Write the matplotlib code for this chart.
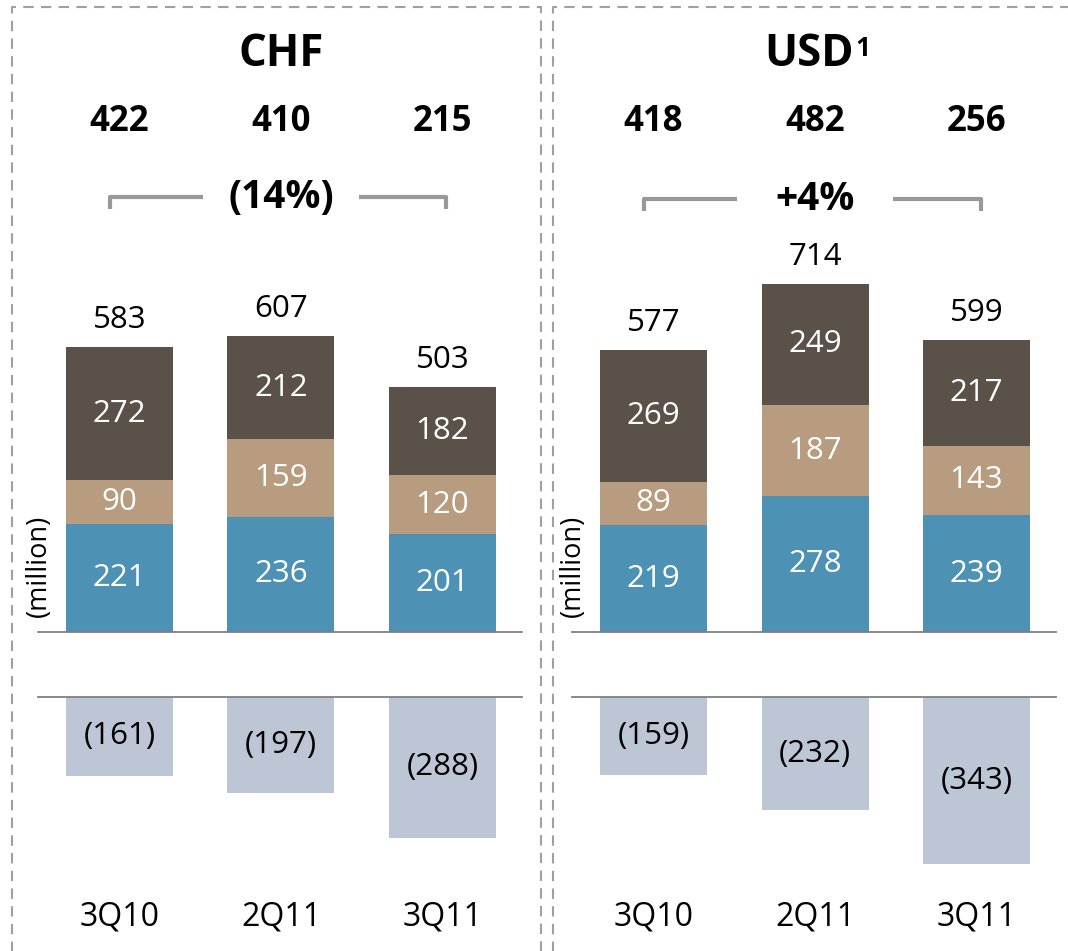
import matplotlib
matplotlib.use("Agg")
import matplotlib.pyplot as plt
from matplotlib.lines import Line2D

plt.rcParams['font.family'] = ['Open Sans', 'DejaVu Sans']

categories = ["3Q10", "2Q11", "3Q11"]

chf_blue = [221, 236, 201]
chf_tan = [90, 159, 120]
chf_dark = [272, 212, 182]
chf_totals = [583, 607, 503]
chf_neg = [161, 197, 288]
chf_net = [422, 410, 215]
chf_change = "(14%)"

usd_blue = [219, 278, 239]
usd_tan = [89, 187, 143]
usd_dark = [269, 249, 217]
usd_totals = [577, 714, 599]
usd_neg = [159, 232, 343]
usd_net = [418, 482, 256]
usd_change = "+4%"

C_BLUE = "#4d91b4"
C_TAN = "#b89c80"
C_DARK = "#5a5249"
C_NEG = "#bcc6d5"
C_LINE = "#7f7f7f"
C_BRACKET = "#999999"

W, H = 1068, 951
fig = plt.figure(figsize=(W / 100, H / 100), dpi=100)

PX_PER_UNIT_X = 161.5
PX_PER_UNIT_Y = 0.488
BASE_PX = 632          # positive baseline (from top)
NEG_GAP_PX = 65        # gap between baselines
CENTER1_PX = 281       # center of 2nd bar relative to panel left
PANEL_W = 534


def ypx(p):
    """convert pixel-from-top to data units (baseline = 0)"""
    return (BASE_PX - p) / PX_PER_UNIT_Y


def draw_panel(x0, title, sup, blue, tan, dark, totals, neg, net, change, bracket_y, title_x_off=0):
    ax = fig.add_axes([x0 / W, 0, PANEL_W / W, 1])
    ax.set_xlim(1 - CENTER1_PX / PX_PER_UNIT_X, 1 + (PANEL_W - CENTER1_PX) / PX_PER_UNIT_X)
    ax.set_ylim(ypx(H), ypx(0))
    ax.axis("off")
    x = list(range(len(categories)))
    bw = 107 / PX_PER_UNIT_X
    neg_base = -NEG_GAP_PX / PX_PER_UNIT_Y

    b1 = [b for b in blue]
    b2 = [b + t for b, t in zip(blue, tan)]
    ax.bar(x, blue, width=bw, color=C_BLUE, zorder=2)
    ax.bar(x, tan, width=bw, bottom=b1, color=C_TAN, zorder=2)
    ax.bar(x, dark, width=bw, bottom=b2, color=C_DARK, zorder=2)
    ax.bar(x, [-v for v in neg], width=bw, bottom=neg_base, color=C_NEG, zorder=2)

    fs = 22.5
    for i in x:
        ax.text(i, blue[i] / 2, str(blue[i]), ha="center", va="center", color="white", fontsize=fs)
        ax.text(i, b1[i] + tan[i] / 2, str(tan[i]), ha="center", va="center", color="white", fontsize=fs)
        ax.text(i, b2[i] + dark[i] / 2, str(dark[i]), ha="center", va="center", color="white", fontsize=fs)
        ax.text(i, totals[i] + 27 / PX_PER_UNIT_Y, str(totals[i]), ha="center", va="center",
                color="black", fontsize=fs)
        ax.text(i, neg_base - neg[i] / 2, f"({neg[i]})", ha="center", va="center",
                color="black", fontsize=fs)
        ax.text(i, ypx(917), categories[i], ha="center", va="center", color="black", fontsize=fs + 0.5)
        ax.text(i, ypx(122), str(net[i]), ha="center", va="center", color="black",
                fontsize=25, fontweight="bold")

    # baselines
    lx0 = 1 - (CENTER1_PX - 38) / PX_PER_UNIT_X
    lx1 = 1 + (522 - CENTER1_PX) / PX_PER_UNIT_X
    ax.plot([lx0, lx1], [0, 0], color=C_LINE, lw=1.3, zorder=3)
    ax.plot([lx0, lx1], [neg_base, neg_base], color=C_LINE, lw=1.3, zorder=3)

    # title
    tx = 1 + title_x_off / PX_PER_UNIT_X
    t = ax.text(tx, ypx(55), title, ha="center", va="center",
                fontsize=31.5, fontweight="bold")
    if sup:
        fig.canvas.draw()
        bb = t.get_window_extent()
        ax.annotate(sup, xy=(bb.x1, bb.y1), xycoords="figure pixels",
                    xytext=(2, -3), textcoords="offset pixels",
                    ha="left", va="top", fontsize=19, fontweight="bold")

    # (million)
    ax.text(1 - (CENTER1_PX - 39) / PX_PER_UNIT_X, ypx(566), "(million)", rotation=90,
            ha="center", va="center", fontsize=19.5)

    # bracket with change label
    by = ypx(bracket_y)
    bdown = ypx(bracket_y + 12)
    xl = 0 - 10 / PX_PER_UNIT_X
    xr = 2 + 4 / PX_PER_UNIT_X
    gap = 0.48
    ax.plot([xl, xl, 1 - gap], [bdown, by, by], color=C_BRACKET, lw=3, solid_capstyle="butt")
    ax.plot([1 + gap, xr, xr], [by, by, bdown], color=C_BRACKET, lw=3, solid_capstyle="butt")
    ax.text(1, ypx(bracket_y), change, ha="center", va="center", fontsize=28, fontweight="bold")
    return ax


draw_panel(0, "CHF", None, chf_blue, chf_tan, chf_dark, chf_totals, chf_neg, chf_net, chf_change, 197)
draw_panel(534, "USD", "1", usd_blue, usd_tan, usd_dark, usd_totals, usd_neg, usd_net, usd_change, 199,
           title_x_off=-6)

# dashed panel borders
border_kw = dict(color="#a0a0a0", lw=1.5, linestyle=(0, (5, 3.5)), transform=fig.transFigure)


def fx(p):
    return p / W


def fy(p):
    return 1 - p / H


fig.add_artist(Line2D([fx(12), fx(12), fx(541), fx(541)], [fy(H + 5), fy(7), fy(7), fy(H + 5)], **border_kw))
fig.add_artist(Line2D([fx(553), fx(553), fx(W + 5)], [fy(H + 5), fy(7), fy(7)], **border_kw))

fig.savefig("out.png", dpi=100, facecolor="white")
